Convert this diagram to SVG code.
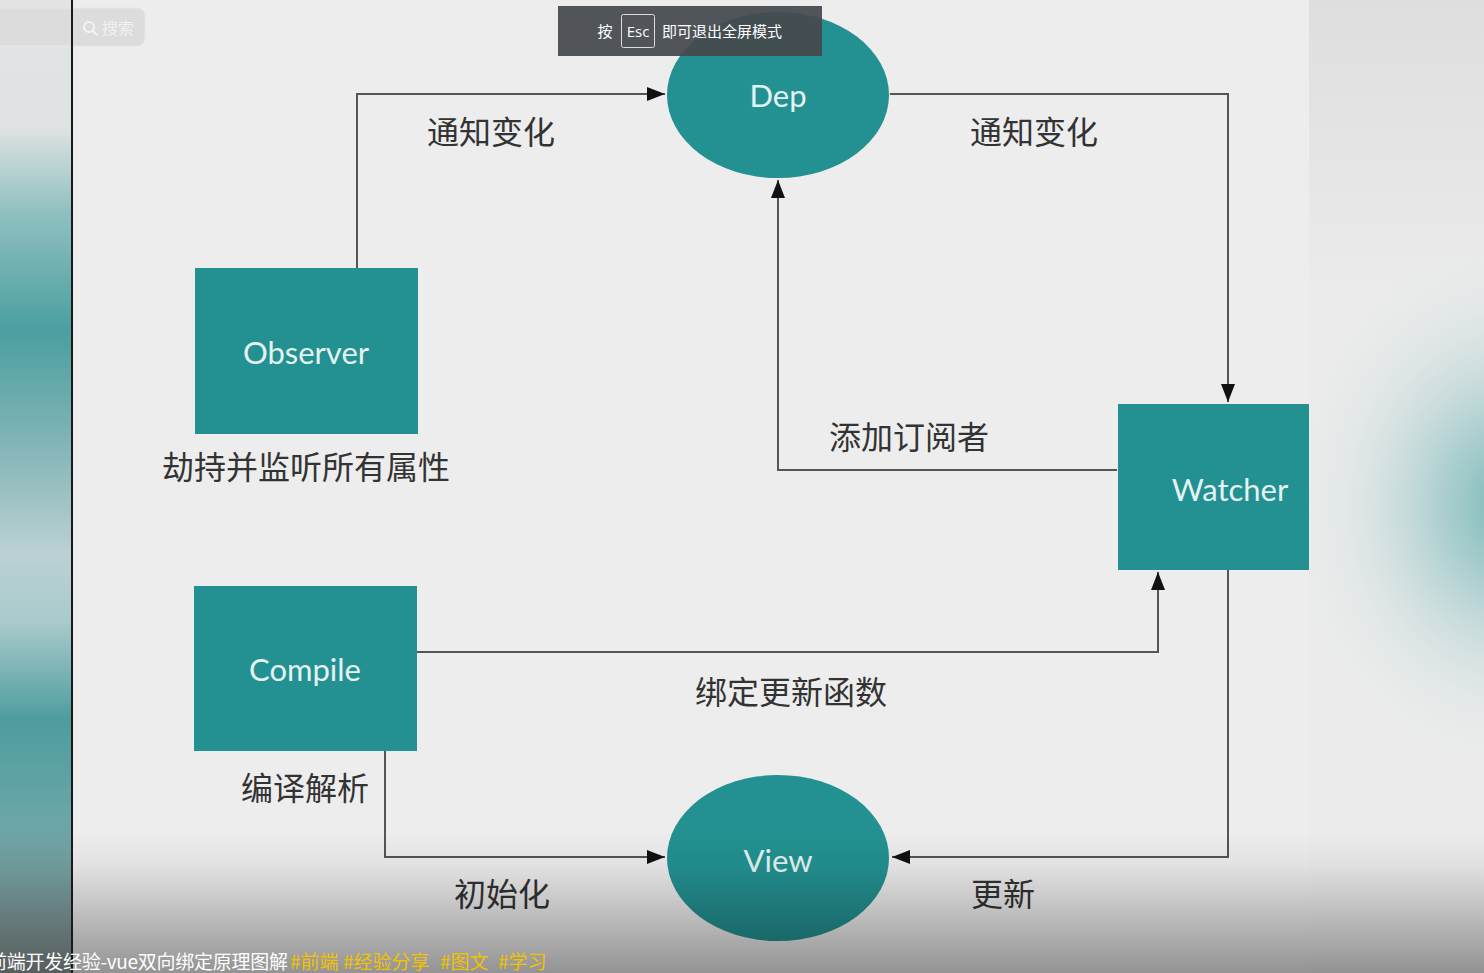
<svg xmlns="http://www.w3.org/2000/svg" width="1484" height="973" viewBox="0 0 1484 973">
<style>
.node{fill:#239191}
.nt{font-family:Lato,"Open Sans",sans-serif;font-size:31px;fill:#e4f3f1;text-anchor:middle;dominant-baseline:central}
.lb{font-family:"Noto Sans CJK SC",sans-serif;font-size:32px;fill:#333;text-anchor:middle;dominant-baseline:central}
.cn{fill:none;stroke:#555;stroke-width:2}
</style>
<defs>
<marker id="ah" markerUnits="userSpaceOnUse" markerWidth="20" markerHeight="16" refX="18" refY="7" orient="auto">
<path d="M0,0 L18,7 L0,14 z" fill="#111"/>
</marker>
<linearGradient id="leftg" x1="0" y1="0" x2="0" y2="1">
<stop offset="0" stop-color="#e2e4e4"/>
<stop offset="0.13" stop-color="#dfe3e3"/>
<stop offset="0.22" stop-color="#8fbfc0"/>
<stop offset="0.34" stop-color="#4b9fa0"/>
<stop offset="0.45" stop-color="#7fb3b5"/>
<stop offset="0.57" stop-color="#bcd1d3"/>
<stop offset="0.64" stop-color="#a8cacc"/>
<stop offset="0.74" stop-color="#4e9c9e"/>
<stop offset="0.84" stop-color="#6aa6a8"/>
<stop offset="1" stop-color="#8c9696"/>
</linearGradient>
<linearGradient id="rightg" x1="0" y1="0" x2="0" y2="1">
<stop offset="0" stop-color="#dedede"/>
<stop offset="0.3" stop-color="#ebebeb"/>
<stop offset="1" stop-color="#ececec"/>
</linearGradient>
<radialGradient id="blob" cx="1510" cy="505" r="230" gradientUnits="userSpaceOnUse" gradientTransform="translate(1510 505) scale(1 1.2) translate(-1510 -505)">
<stop offset="0" stop-color="#5aa9aa" stop-opacity="0.8"/>
<stop offset="0.3" stop-color="#7ab8b9" stop-opacity="0.55"/>
<stop offset="0.65" stop-color="#b5d2d3" stop-opacity="0.25"/>
<stop offset="1" stop-color="#e8ecec" stop-opacity="0"/>
</radialGradient>
<linearGradient id="botg" x1="0" y1="0" x2="0" y2="1">
<stop offset="0" stop-color="#000" stop-opacity="0"/>
<stop offset="0.25" stop-color="#000" stop-opacity="0.05"/>
<stop offset="1" stop-color="#000" stop-opacity="0.38"/>
</linearGradient>
</defs>
<rect x="0" y="0" width="1484" height="973" fill="#ededed"/>
<rect x="0" y="0" width="72" height="973" fill="url(#leftg)"/>
<rect x="1309" y="0" width="175" height="973" fill="url(#rightg)"/>
<rect x="1309" y="0" width="175" height="973" fill="url(#blob)"/>

<g id="connectors">
<polyline class="cn" points="357,268 357,94 665,94" marker-end="url(#ah)"/>
<polyline class="cn" points="890,94 1228,94 1228,402" marker-end="url(#ah)"/>
<polyline class="cn" points="1117,470 778,470 778,180" marker-end="url(#ah)"/>
<polyline class="cn" points="417,652 1158,652 1158,572" marker-end="url(#ah)"/>
<polyline class="cn" points="385,751 385,857 665,857" marker-end="url(#ah)"/>
<polyline class="cn" points="1228,570 1228,857 892,857" marker-end="url(#ah)"/>
<text class="lb" x="491" y="130">通知变化</text>
<text class="lb" x="1034" y="130">通知变化</text>
<text class="lb" x="909" y="435">添加订阅者</text>
<text class="lb" x="791" y="690">绑定更新函数</text>
<text class="lb" x="502" y="892">初始化</text>
<text class="lb" x="1003" y="892">更新</text>
</g>

<g id="dep">
<ellipse class="node" cx="778" cy="95" rx="111" ry="83"/>
<text class="nt" x="778" y="95">Dep</text>
</g>
<g id="observer">
<rect class="node" x="195" y="268" width="223" height="166"/>
<text class="nt" x="306" y="352">Observer</text>
<text class="lb" x="306" y="465">劫持并监听所有属性</text>
</g>
<g id="compile">
<rect class="node" x="194" y="586" width="223" height="165"/>
<text class="nt" x="305" y="669">Compile</text>
<text class="lb" x="305" y="786">编译解析</text>
</g>
<g id="watcher">
<rect class="node" x="1118" y="404" width="191" height="166"/>
<text class="nt" x="1230" y="489">Watcher</text>
</g>
<g id="view">
<ellipse class="node" cx="778" cy="858" rx="111" ry="83"/>
<text class="nt" x="778" y="860">View</text>
</g>

<rect x="0" y="830" width="1484" height="143" fill="url(#botg)"/>

<g id="searchbox">
<rect x="-20" y="8" width="165" height="38" rx="8" fill="#dcdcdc" stroke="#e6e6e6" stroke-width="1"/>
<circle cx="89" cy="27" r="5" fill="none" stroke="#f3f3f3" stroke-width="2.2"/>
<line x1="93" y1="31" x2="97" y2="35" stroke="#f3f3f3" stroke-width="2.2"/>
<text x="102" y="34" font-family="Noto Sans CJK SC,sans-serif" font-size="16" fill="#f1f1f1">搜索</text>
</g>
<rect x="71" y="0" width="2" height="973" fill="#1a1a1a"/>

<g id="banner">
<rect x="558" y="6" width="264" height="50" fill="#45494d" fill-opacity="0.93"/>
<text x="605" y="37" font-family="Noto Sans CJK SC,sans-serif" font-size="15" fill="#fff" text-anchor="middle">按</text>
<rect x="621.5" y="14.5" width="33" height="33" rx="2" fill="none" stroke="#ddd" stroke-width="1"/>
<text x="638" y="37" font-family="'Open Sans',sans-serif" font-size="15" fill="#fff" text-anchor="middle">Esc</text>
<text x="662" y="37" font-family="Noto Sans CJK SC,sans-serif" font-size="15" fill="#fff">即可退出全屏模式</text>
</g>

<g id="caption" font-family="Noto Sans CJK SC,sans-serif" font-size="19">
<text x="-12" y="969" fill="#fff" textLength="300" lengthAdjust="spacing">前端开发经验-vue双向绑定原理图解</text>
<text y="969" fill="#f2c200"><tspan x="290">#前端</tspan><tspan x="343">#经验分享</tspan><tspan x="440">#图文</tspan><tspan x="498">#学习</tspan></text>
</g>
</svg>
